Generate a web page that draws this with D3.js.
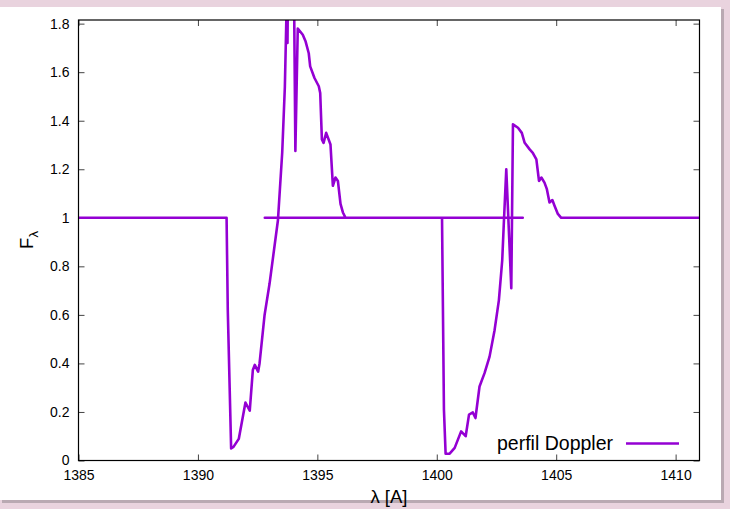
<!DOCTYPE html>
<html>
<head>
<meta charset="utf-8">
<script src="https://cdn.jsdelivr.net/npm/d3@7"></script>
<style>
  html, body { margin: 0; padding: 0; background: #e9d3de; }
  svg { display: block; }
  text { font-family: "Liberation Sans", Arial, Helvetica, sans-serif; fill: #000; }
</style>
</head>
<body>
<svg id="chart" width="730" height="509"></svg>
<script>
// ---- data ----
// first profile (Si IV 1393.76 line), drawn first
const profileA_x = [1385, 1391.2, 1391.25, 1391.39, 1391.49, 1391.71, 1391.99, 1392.17, 1392.30, 1392.38, 1392.52, 1392.58, 1392.79, 1393.00, 1393.35, 1393.53, 1393.64, 1393.72, 1393.75, 1393.80, 1394.00, 1394.08, 1394.18, 1394.39, 1394.51, 1394.64, 1394.70, 1394.88, 1395.06, 1395.12, 1395.19, 1395.26, 1395.37, 1395.55, 1395.65, 1395.76, 1395.86, 1395.97, 1396.07, 1396.18, 1403.6];
const profileA_y = [1.0, 1.0, 0.62, 0.05, 0.056, 0.089, 0.239, 0.205, 0.373, 0.394, 0.366, 0.40, 0.599, 0.729, 0.99, 1.27, 1.54, 1.9, 1.72, 2.3, 2.2, 1.275, 1.78, 1.754, 1.726, 1.678, 1.624, 1.576, 1.542, 1.514, 1.323, 1.309, 1.350, 1.302, 1.132, 1.166, 1.152, 1.057, 1.022, 1.0, 1.0];
// second profile (Si IV 1402.77 line), continues the same line
const profileB_x = [1392.8, 1400.22, 1400.30, 1400.37, 1400.54, 1400.75, 1401.02, 1401.21, 1401.35, 1401.51, 1401.62, 1401.79, 1402.00, 1402.21, 1402.42, 1402.60, 1402.74, 1402.80, 1402.91, 1403.12, 1403.19, 1403.40, 1403.56, 1403.68, 1403.89, 1404.02, 1404.17, 1404.28, 1404.38, 1404.51, 1404.61, 1404.72, 1404.84, 1404.93, 1405.07, 1405.21, 1411];
const profileB_y = [1.0, 1.0, 0.21, 0.028, 0.028, 0.052, 0.12, 0.10, 0.189, 0.198, 0.175, 0.305, 0.36, 0.428, 0.537, 0.66, 0.824, 0.96, 1.20, 0.71, 1.385, 1.371, 1.350, 1.309, 1.282, 1.268, 1.241, 1.152, 1.166, 1.145, 1.118, 1.063, 1.073, 1.05, 1.016, 1.0, 1.0];

const xTicks = [1385, 1390, 1395, 1400, 1405, 1410];
const yTicks = [0, 0.2, 0.4, 0.6, 0.8, 1, 1.2, 1.4, 1.6, 1.8];
const seriesName = "perfil Doppler";

// ---- layout ----
const svg = d3.select("#chart");
const W = 730, H = 509;
const mLeft = 78.5, mRight = 699.5, mTop = 20, mBottom = 460.5;
const color = "#9400d3";

// page frame
svg.append("rect").attr("x", 0).attr("y", 0).attr("width", W).attr("height", H).attr("fill", "#e9d3de");
svg.append("rect").attr("x", 2).attr("y", 9).attr("width", 722).attr("height", 494).attr("fill", "#b9a9b2");
svg.append("rect").attr("x", 0).attr("y", 7).attr("width", 721).attr("height", 493).attr("fill", "#ffffff");

const x = d3.scaleLinear().domain([1385, 1411]).range([mLeft, mRight]);
const y = d3.scaleLinear().domain([0, 1.815]).range([mBottom, mTop]);

const points = profileA_x.map((v, i) => [v, profileA_y[i]])
  .concat(profileB_x.map((v, i) => [v, profileB_y[i]]));

svg.append("clipPath").attr("id", "plotclip")
  .append("rect").attr("x", mLeft).attr("y", mTop).attr("width", mRight - mLeft).attr("height", mBottom - mTop);

// axes with inward ticks (gnuplot style, mirrored)
const tickLen = 6;
const gx = svg.append("g").attr("transform", `translate(0,${mBottom})`)
  .call(d3.axisBottom(x).tickValues(xTicks).tickSize(-tickLen).tickPadding(10).tickFormat(d3.format("d")));
const gxTop = svg.append("g").attr("transform", `translate(0,${mTop})`)
  .call(d3.axisTop(x).tickValues(xTicks).tickSize(-tickLen).tickFormat(""));
const gy = svg.append("g").attr("transform", `translate(${mLeft},0)`)
  .call(d3.axisLeft(y).tickValues(yTicks).tickSize(-tickLen).tickPadding(9).tickFormat(d => d3.format("~g")(d)));
const gyR = svg.append("g").attr("transform", `translate(${mRight},0)`)
  .call(d3.axisRight(y).tickValues(yTicks).tickSize(-tickLen).tickFormat(""));

[gx, gxTop, gy, gyR].forEach(g => {
  g.select(".domain").remove();
  g.selectAll(".tick line").attr("stroke", "#444").attr("stroke-width", 1);
  g.selectAll(".tick text").attr("font-size", 14).attr("font-family", '"Liberation Sans", Arial, sans-serif').attr("fill", "#000");
});

// data line
const line = d3.line().x(d => x(d[0])).y(d => y(d[1]));
svg.append("path")
  .datum(points)
  .attr("clip-path", "url(#plotclip)")
  .attr("fill", "none")
  .attr("stroke", color)
  .attr("stroke-width", 2.6)
  .attr("stroke-linejoin", "round")
  .attr("d", line);

// frame
svg.append("rect").attr("x", mLeft).attr("y", mTop).attr("width", mRight - mLeft).attr("height", mBottom - mTop)
  .attr("fill", "none").attr("stroke", "#000").attr("stroke-width", 1.2);

// legend
svg.append("text").attr("x", 613).attr("y", 450).attr("text-anchor", "end").attr("font-size", 19.5)
  .text(seriesName);
svg.append("line").attr("x1", 626).attr("x2", 679).attr("y1", 443.5).attr("y2", 443.5)
  .attr("stroke", color).attr("stroke-width", 2.6);

// axis titles
svg.append("text").attr("x", (mLeft + mRight) / 2).attr("y", 503).attr("text-anchor", "middle").attr("font-size", 18.5)
  .text("λ [A]");
const yt = svg.append("text").attr("transform", `translate(33,240) rotate(-90)`).attr("text-anchor", "middle").attr("font-size", 18.5);
yt.append("tspan").text("F");
yt.append("tspan").attr("font-size", 13).attr("dy", 5).text("λ");
</script>
</body>
</html>
